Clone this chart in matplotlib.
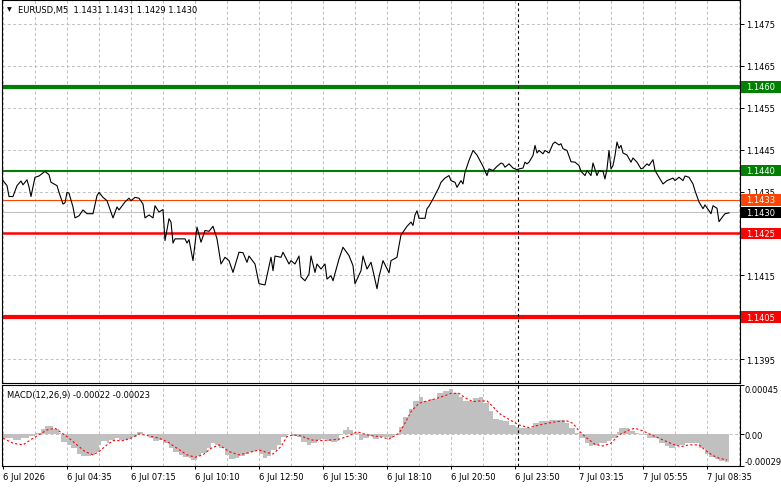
import matplotlib

matplotlib.use("Agg")
import matplotlib.pyplot as plt
from matplotlib.patches import Rectangle
from matplotlib.transforms import blended_transform_factory

plt.rcParams["font.family"] = ["DejaVu Sans"]

# price closes (bar index, close), M5 bars
BAR_IDX = [0, 2, 3, 5, 7, 9, 10, 12, 13, 14, 16, 18, 21, 23, 24, 27, 28, 30, 31, 32,
           33, 35, 36, 38, 40, 42, 45, 47, 48, 50, 52, 55, 57, 58, 61, 63, 64, 66, 68, 70,
           71, 73, 75, 76, 78, 80, 81, 83, 84, 85, 86, 91, 92, 93, 95, 97, 99, 101, 103, 105,
           107, 109, 111, 113, 115, 118, 120, 122, 123, 126, 128, 131, 134, 135, 136, 139, 140, 143, 144, 146,
           148, 149, 151, 153, 154, 156, 157, 159, 161, 162, 164, 165, 168, 170, 173, 175, 176, 179, 180, 182,
           184, 185, 187, 188, 190, 193, 194, 197, 198, 199, 202, 204, 205, 206, 207, 208, 211, 212, 213, 215,
           218, 219, 221, 223, 224, 226, 227, 229, 230, 231, 233, 235, 237, 238, 240, 242, 243, 245, 247, 249,
           250, 251, 253, 255, 257, 258, 260, 261, 262, 263, 265, 266, 267, 268, 270, 271, 273, 275, 276, 278,
           279, 280, 282, 284, 286, 288, 289, 291, 292, 294, 295, 297, 298, 300, 301, 302, 303, 304, 305, 306,
           307, 308, 309, 310, 312, 314, 315, 317, 319, 320, 322, 323, 325, 326, 328, 330, 332, 333, 335, 336,
           338, 340, 341, 343, 345, 346, 348, 350, 351, 353, 354, 355, 357, 358, 360, 361, 363]
CLOSE = [1.14376, 1.14364, 1.14338, 1.14338, 1.14364, 1.14375, 1.14366, 1.14378, 1.14361, 1.14338,
         1.14384, 1.14387, 1.14398, 1.14390, 1.14372, 1.14364, 1.14348, 1.14320, 1.14323, 1.14348,
         1.14346, 1.14313, 1.14287, 1.14292, 1.14306, 1.14297, 1.14297, 1.14340, 1.14348, 1.14336,
         1.14328, 1.14287, 1.14313, 1.14306, 1.14325, 1.14334, 1.14328, 1.14336, 1.14334, 1.14320,
         1.14287, 1.14294, 1.14287, 1.14316, 1.14301, 1.14307, 1.14233, 1.14285, 1.14277, 1.14227,
         1.14237, 1.14237, 1.14227, 1.14235, 1.14185, 1.14265, 1.14229, 1.14257, 1.14255, 1.14267,
         1.14237, 1.14177, 1.14193, 1.14185, 1.14157, 1.14205, 1.14204, 1.14181, 1.14196, 1.14177,
         1.14130, 1.14127, 1.14193, 1.14161, 1.14196, 1.14193, 1.14205, 1.14177, 1.14185, 1.14177,
         1.14196, 1.14146, 1.14137, 1.14153, 1.14196, 1.14157, 1.14177, 1.14165, 1.14177, 1.14141,
         1.14149, 1.14137, 1.14189, 1.14217, 1.14197, 1.14173, 1.14130, 1.14161, 1.14196, 1.14165,
         1.14181, 1.14161, 1.14118, 1.14146, 1.14185, 1.14156, 1.14185, 1.14193, 1.14221, 1.14246,
         1.14267, 1.14277, 1.14269, 1.14294, 1.14304, 1.14286, 1.14286, 1.14309, 1.14315, 1.14332,
         1.14360, 1.14372, 1.14382, 1.14388, 1.14376, 1.14372, 1.14360, 1.14376, 1.14368, 1.14396,
         1.14424, 1.14448, 1.14437, 1.14428, 1.14410, 1.14388, 1.14404, 1.14400, 1.14410, 1.14418,
         1.14416, 1.14408, 1.14416, 1.14406, 1.14402, 1.14404, 1.14406, 1.14420, 1.14416, 1.14420,
         1.14436, 1.14460, 1.14442, 1.14448, 1.14440, 1.14448, 1.14442, 1.14464, 1.14468, 1.14461,
         1.14464, 1.14452, 1.14448, 1.14421, 1.14420, 1.14412, 1.14398, 1.14388, 1.14400, 1.14388,
         1.14418, 1.14388, 1.14400, 1.14398, 1.14380, 1.14404, 1.14448, 1.14404, 1.14412, 1.14436,
         1.14468, 1.14453, 1.14460, 1.14442, 1.14437, 1.14420, 1.14430, 1.14420, 1.14404, 1.14406,
         1.14416, 1.14412, 1.14426, 1.14400, 1.14384, 1.14368, 1.14376, 1.14378, 1.14382, 1.14376,
         1.14384, 1.14376, 1.14387, 1.14384, 1.14368, 1.14352, 1.14325, 1.14309, 1.14318, 1.14304,
         1.14297, 1.14316, 1.14310, 1.14278, 1.14291, 1.14297, 1.14299]

# MACD(12,26,9) histogram
HIST_IDX = [0, 5, 9, 13, 16, 19, 21, 24, 25, 28, 29, 32, 34, 37, 39, 42, 44, 46, 48, 49,
            52, 53, 56, 58, 62, 64, 67, 68, 70, 73, 75, 78, 80, 83, 85, 88, 90, 93, 94, 97,
            99, 102, 104, 106, 108, 111, 113, 116, 118, 121, 123, 126, 128, 130, 132, 134, 137, 139, 142, 144,
            147, 149, 152, 154, 157, 159, 162, 164, 167, 168, 170, 172, 173, 175, 178, 180, 183, 185, 188, 193,
            195, 198, 200, 203, 205, 208, 210, 213, 217, 220, 223, 225, 228, 230, 233, 235, 238, 240, 243, 245,
            248, 250, 253, 256, 258, 262, 265, 268, 270, 273, 276, 278, 281, 283, 286, 288, 291, 293, 295, 298,
            302, 304, 307, 308, 311, 313, 316, 318, 322, 325, 328, 331, 333, 336, 338, 341, 343, 346, 348, 351,
            353, 356, 358, 361, 363]
HIST = [-0.000034, -0.000050, -0.000034, -0.000017, 0.000008, 0.000050, 0.000076, 0.000076, 0.000050, 0.000008,
        -0.000067, -0.000101, -0.000126, -0.000176, -0.000202, -0.000202, -0.000185, -0.000160, -0.000101, -0.000059,
        -0.000076, -0.000050, -0.000034, -0.000050, -0.000042, -0.000025, 0.000017, 0.000025, 0.0, -0.000034,
        -0.000059, -0.000050, -0.000076, -0.000126, -0.000160, -0.000185, -0.000210, -0.000218, -0.000235, -0.000202,
        -0.000168, -0.000126, -0.000076, -0.000101, -0.000126, -0.000185, -0.000227, -0.000218, -0.000202, -0.000176,
        -0.000160, -0.000143, -0.000176, -0.000218, -0.000202, -0.000143, -0.000101, -0.000025, 0.0, -0.000017,
        -0.000025, -0.000067, -0.000101, -0.000076, -0.000050, -0.000042, -0.000059, -0.000067, -0.000059, -0.000008,
        0.000042, 0.000067, 0.000042, 0.000008, -0.000050, -0.000034, -0.000017, -0.000042, -0.000025, -0.000034,
        -0.000008, 0.000067, 0.000160, 0.000235, 0.000302, 0.000336, 0.000302, 0.000319, 0.000378, 0.000395,
        0.000412, 0.000378, 0.000344, 0.000302, 0.000302, 0.000328, 0.000344, 0.000286, 0.000210, 0.000143,
        0.000134, 0.000118, 0.000084, 0.000067, 0.000059, 0.000059, 0.000101, 0.000118, 0.000118, 0.000126,
        0.000134, 0.000134, 0.000101, 0.000059, 0.000008, -0.000034, -0.000076, -0.000109, -0.000101, -0.000076,
        -0.000059, -0.000034, 0.000025, 0.000059, 0.000059, 0.000034, 0.000008, -0.000008, -0.000034, -0.000034,
        -0.000076, -0.000109, -0.000126, -0.000109, -0.000101, -0.000076, -0.000076, -0.000084, -0.000126, -0.000176,
        -0.000210, -0.000227, -0.000244, -0.000252, -0.000235]

# MACD signal line
SIG_IDX = [0, 5, 10, 15, 22, 26, 32, 37, 41, 45, 48, 52, 55, 60, 64, 68, 73, 78, 82, 87,
           92, 96, 100, 104, 108, 113, 118, 123, 128, 132, 135, 139, 142, 145, 149, 154, 159, 164, 168, 173,
           177, 182, 185, 188, 193, 198, 201, 204, 208, 212, 216, 221, 224, 228, 231, 235, 238, 242, 245, 248,
           252, 255, 258, 263, 267, 272, 277, 282, 285, 288, 292, 296, 300, 304, 308, 313, 316, 320, 325, 330,
           335, 339, 343, 348, 351, 355, 358, 362]
SIGNAL = [-0.000036, -0.000082, -0.000097, -0.000036, 0.000039, 0.000055, -0.000021, -0.000097, -0.000158, -0.000188,
          -0.000158, -0.000097, -0.000058, -0.000058, -0.000036, 0.000003, -0.000015, -0.000036, -0.000067, -0.000128,
          -0.000188, -0.000210, -0.000188, -0.000128, -0.000097, -0.000158, -0.000188, -0.000167, -0.000143, -0.000167,
          -0.000180, -0.000113, -0.000021, -0.000006, -0.000015, -0.000052, -0.000058, -0.000052, -0.000045, -0.000015,
          0.000024, -0.000006, -0.000015, -0.000021, -0.000043, 0.000009, 0.000100, 0.000207, 0.000283, 0.000304,
          0.000323, 0.000353, 0.000374, 0.000374, 0.000334, 0.000298, 0.000304, 0.000304, 0.000252, 0.000192,
          0.000146, 0.000116, 0.000085, 0.000060, 0.000079, 0.000100, 0.000116, 0.000122, 0.000100, 0.000030,
          -0.000036, -0.000092, -0.000107, -0.000082, -0.000006, 0.000039, 0.000055, 0.000030, -0.000012, -0.000052,
          -0.000092, -0.000113, -0.000097, -0.000097, -0.000143, -0.000195, -0.000219, -0.000234]

TICK_BARS = [0, 32, 64, 96, 128, 160, 192, 224, 256, 288, 320, 352]
TICK_LABELS = ["6 Jul 2026", "6 Jul 04:35", "6 Jul 07:15", "6 Jul 10:10", "6 Jul 12:50", "6 Jul 15:30",
               "6 Jul 18:10", "6 Jul 20:50", "6 Jul 23:50", "7 Jul 03:15", "7 Jul 05:55", "7 Jul 08:35"]
PRICE_TICKS = [1.1395, 1.1405, 1.1415, 1.1425, 1.1435, 1.1445, 1.1455, 1.1465, 1.1475]
PRICE_LABELS = ["1.1395", "1.1405", "1.1415", "1.1425", "1.1435", "1.1445", "1.1455", "1.1465", "1.1475"]

LEVELS = [1.1460, 1.1440, 1.1433, 1.1430, 1.1425, 1.1405]
LEVEL_TEXT = ["1.1460", "1.1440", "1.1433", "1.1430", "1.1425", "1.1405"]
LINE_COLORS = ["#008000", "#008000", "#ff4500", "#c0c0c0", "#ff0000", "#ff0000"]
BOX_COLORS = ["#008000", "#008000", "#ff4500", "#000000", "#ff0000", "#ff0000"]
LINE_WIDTHS = [3.0, 1.5, 0.8, 0.8, 1.8, 3.0]

MACD_TICKS = [-0.00029, 0.0, 0.00045]
MACD_LABELS = ["-0.00029", "0.00", "0.00045"]

GRID = dict(color="#c0c0c0", linestyle=(0, (3, 2.5)), linewidth=0.7)
FS = 6

fig = plt.figure(figsize=(7.81, 4.89), dpi=100)
ax = fig.add_axes([2 / 781, 105 / 489, 738 / 781, 383 / 489])
ax2 = fig.add_axes([2 / 781, 22 / 489, 738 / 781, 81 / 489], sharex=ax)

ax.set_xlim(-0.5, 368.5)
ax.set_ylim(1.13893, 1.14807)
ax2.set_ylim(-0.00029, 0.00045)

# grids
grid_bars = list(range(0, 369, 16))
for b in grid_bars:
    ax.axvline(b, zorder=0, **GRID)
    ax2.axvline(b, zorder=0, **GRID)
for p in PRICE_TICKS:
    ax.axhline(p, zorder=0, **GRID)
ax2.axhline(0.0, zorder=0, **GRID)

# price levels
for lvl, col, lw in zip(LEVELS, LINE_COLORS, LINE_WIDTHS):
    ax.axhline(lvl, color=col, linewidth=lw, zorder=1)

ax.plot(BAR_IDX, CLOSE, color="black", linewidth=0.8, zorder=3)

ax.axvline(257.5, color="black", linestyle=(0, (2.5, 2.5)), linewidth=0.8, zorder=4)
ax2.axvline(257.5, color="black", linestyle=(0, (2.5, 2.5)), linewidth=0.8, zorder=4)

# MACD
ax2.fill_between(HIST_IDX, HIST, 0, step="post", color="#c0c0c0", linewidth=0, zorder=1)
ax2.plot(SIG_IDX, SIGNAL, color="#ff0000", linestyle=(0, (2, 2)), linewidth=0.8, zorder=3)

# axes styling
for a in (ax, ax2):
    for s in a.spines.values():
        s.set_color("black")
        s.set_linewidth(0.8)
    a.yaxis.tick_right()
    a.tick_params(axis="y", direction="out", length=3, width=0.7, labelsize=FS, pad=1.5)
ax2.tick_params(axis="y", pad=0.3)

ax.set_yticks(PRICE_TICKS)
ax.set_yticklabels(PRICE_LABELS)
ax.tick_params(axis="x", length=0, labelbottom=False)

ax2.set_yticks(MACD_TICKS)
ax2.set_yticklabels(MACD_LABELS)
ylabs = ax2.get_yticklabels()
ylabs[0].set_va("bottom")
ylabs[2].set_va("top")

ax2.set_xticks(TICK_BARS)
ax2.set_xticklabels(TICK_LABELS)
ax2.tick_params(axis="x", direction="out", length=2.5, width=0.7, labelsize=FS, pad=1.5)
for lab in ax2.get_xticklabels():
    lab.set_ha("left")

# coloured price boxes on the right scale
blend = blended_transform_factory(ax.transAxes, ax.transData)
box_h = 0.00028
for lvl, txt, col in zip(LEVELS, LEVEL_TEXT, BOX_COLORS):
    ax.add_patch(Rectangle((1.0 + 1 / 738, lvl - box_h / 2), 40 / 738, box_h, transform=blend,
                           facecolor=col, edgecolor="none", clip_on=False, zorder=10))
    ax.text(1.0 + 6 / 738, lvl, txt, transform=blend, color="white", fontsize=FS,
            ha="left", va="center", clip_on=False, zorder=11)

# header texts
ax.text(5 / 738, 1 - 9 / 383, "\u25bc", transform=ax.transAxes, fontsize=4.5, ha="left", va="center")
ax.text(16 / 738, 1 - 9 / 383, "EURUSD,M5  1.1431 1.1431 1.1429 1.1430", transform=ax.transAxes,
        fontsize=FS, ha="left", va="center")
ax2.text(5 / 738, 0.88, "MACD(12,26,9) -0.00022 -0.00023", transform=ax2.transAxes,
         fontsize=FS, ha="left", va="center")

fig.savefig("out.png", dpi=100, facecolor="white")
plt.close(fig)
